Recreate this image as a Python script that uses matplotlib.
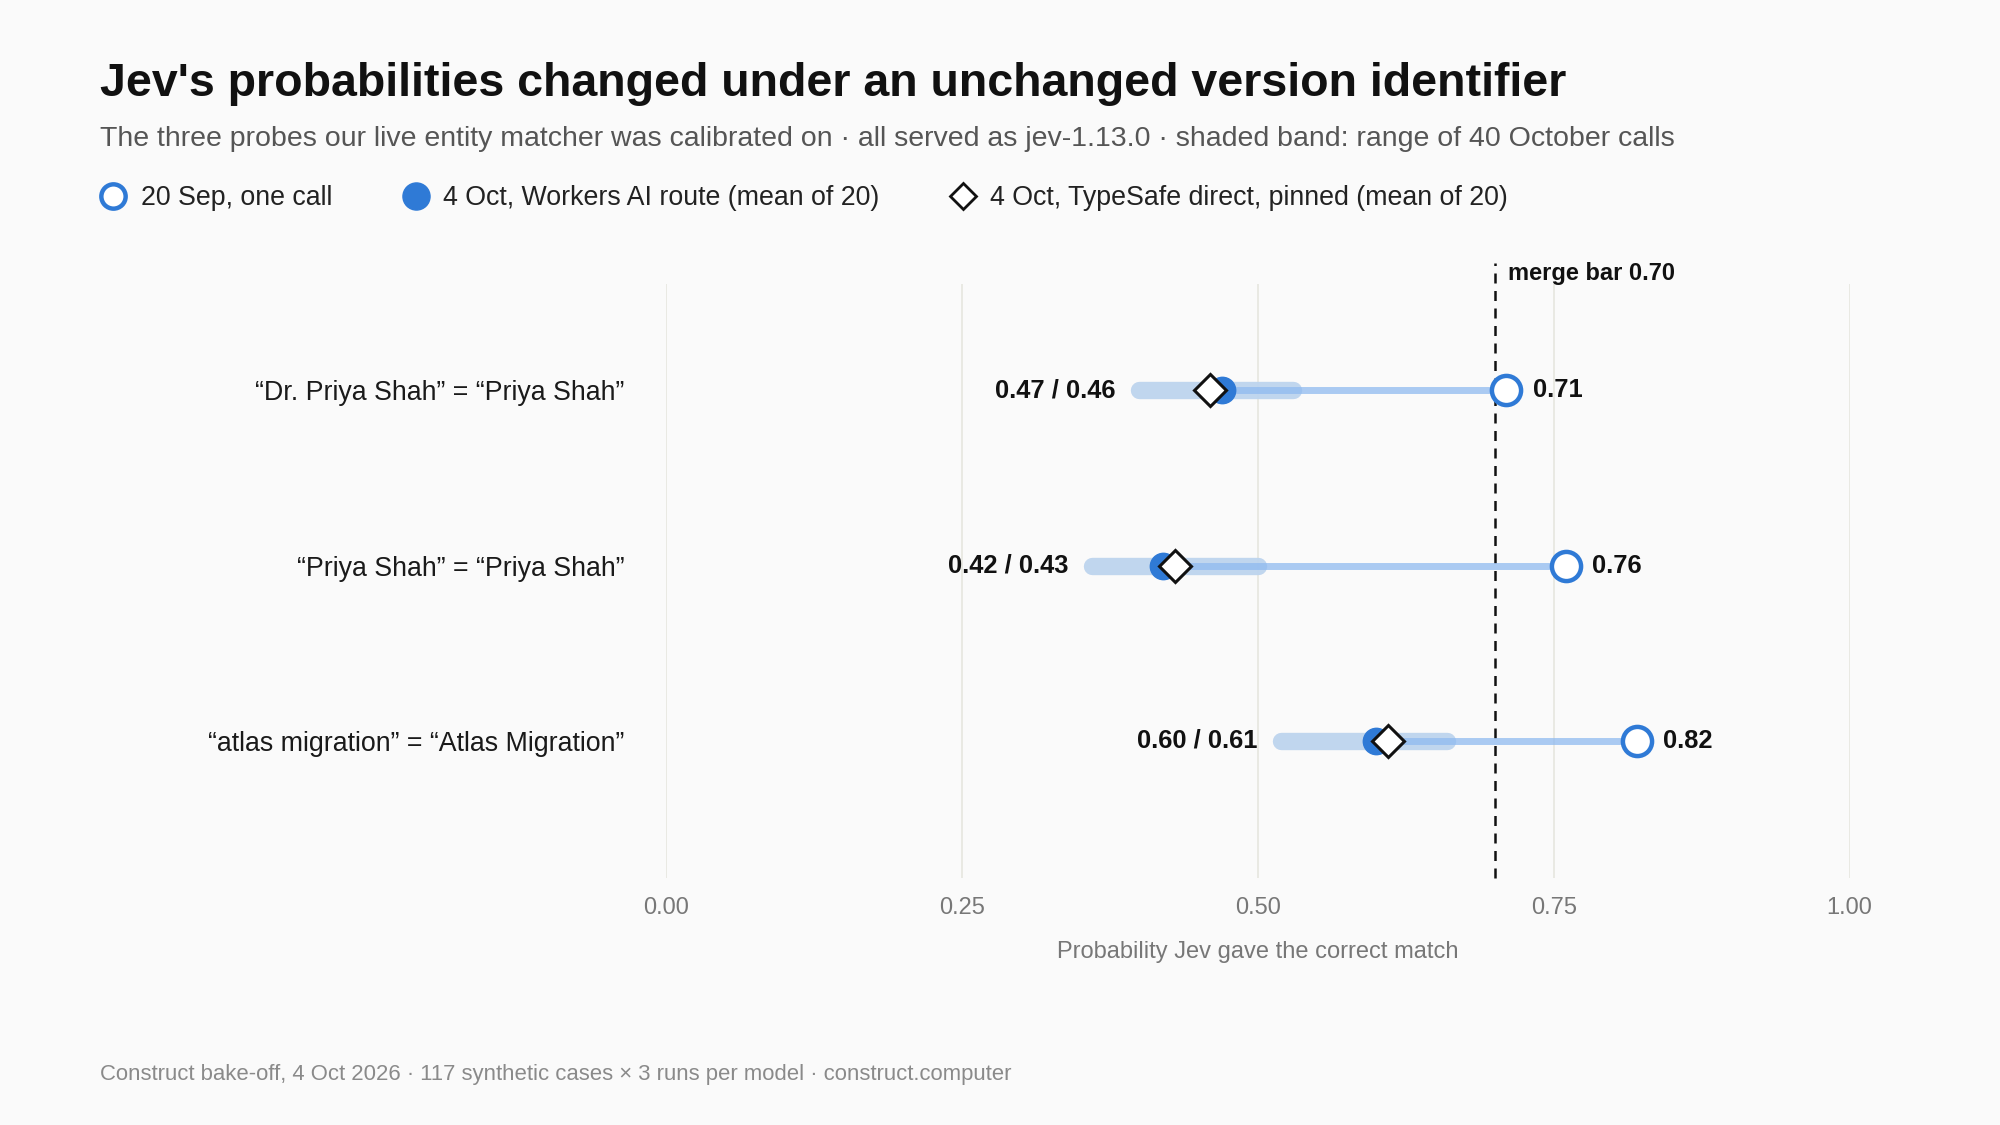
import matplotlib
matplotlib.use("Agg")
import matplotlib.pyplot as plt
from matplotlib.lines import Line2D

# --- Data ---
probes = ["\u201cDr. Priya Shah\u201d = \u201cPriya Shah\u201d",
          "\u201cPriya Shah\u201d = \u201cPriya Shah\u201d",
          "\u201catlas migration\u201d = \u201cAtlas Migration\u201d"]
sep_call = [0.71, 0.76, 0.82]          # 20 Sep, one call
oct_workers = [0.47, 0.42, 0.60]       # 4 Oct, Workers AI route (mean of 20)
oct_typesafe = [0.46, 0.43, 0.61]      # 4 Oct, TypeSafe direct, pinned (mean of 20)
band_lo = [0.40, 0.36, 0.52]           # range of 40 October calls
band_hi = [0.53, 0.50, 0.66]
merge_bar = 0.70
xticks = [0.0, 0.25, 0.5, 0.75, 1.0]

# --- Style ---
plt.rcParams['font.family'] = ['Liberation Sans', 'DejaVu Sans']
BG = "#fafafa"
BLUE = "#2f7ad6"
BAND = "#bdd4ee"
LINK = "#8fbaf0"
GRID = "#e6e6df"

fig = plt.figure(figsize=(20, 11.25), dpi=100, facecolor=BG)
ax = fig.add_axes([0.333, 0.22, 0.5918, 0.528])
ax.set_facecolor(BG)

ypos = list(range(len(probes)))

for i, y in enumerate(ypos):
    # shaded band of October calls
    ax.plot([band_lo[i], band_hi[i]], [y, y], color=BAND, lw=12.5,
            solid_capstyle="round", alpha=0.95, zorder=2)
    # link from October mean to September value
    ax.plot([oct_workers[i], sep_call[i]], [y, y], color=LINK, lw=5,
            alpha=0.75, solid_capstyle="butt", zorder=3)

ax.plot(oct_workers, ypos, "o", ms=19, color=BLUE, mec=BLUE, zorder=4, clip_on=False)
ax.plot(oct_typesafe, ypos, "D", ms=16, mfc="white", mec="#111111", mew=2.2,
        zorder=5, clip_on=False)
ax.plot(sep_call, ypos, "o", ms=21, mfc="white", mec=BLUE, mew=3.2, zorder=6,
        clip_on=False)

for i, y in enumerate(ypos):
    ax.annotate(f"{oct_workers[i]:.2f} / {oct_typesafe[i]:.2f}", (band_lo[i], y),
                xytext=(-17, 0), textcoords="offset points", ha="right", va="center",
                fontsize=18.4, fontweight="bold", color="#111111")
    ax.annotate(f"{sep_call[i]:.2f}", (sep_call[i], y), xytext=(19, 0),
                textcoords="offset points", ha="left", va="center",
                fontsize=18.4, fontweight="bold", color="#111111")

# merge bar
ax.axvline(merge_bar, ymin=0, ymax=1.035, color="#111111", lw=1.8,
           ls=(0, (4, 3)), clip_on=False, zorder=1)
ax.annotate(f"merge bar {merge_bar:.2f}", (merge_bar, 1.0), xycoords=("data", "axes fraction"),
            xytext=(10, 7.5), textcoords="offset points", ha="left", va="center",
            fontsize=17, fontweight="bold", color="#111111")

ax.set_xlim(0, 1)
ax.set_ylim(2.78, -0.61)
ax.set_xticks(xticks)
ax.set_xticklabels([f"{t:.2f}" for t in xticks])
ax.set_yticks(ypos)
ax.set_yticklabels(probes)
ax.grid(axis="x", color=GRID, lw=1.2, zorder=0)
ax.grid(axis="y", visible=False)
for s in ax.spines.values():
    s.set_visible(False)
ax.tick_params(axis="x", length=0, pad=14, labelsize=17, labelcolor="#777777")
ax.tick_params(axis="y", length=0, pad=30, labelsize=19.3, labelcolor="#1a1a1a")
ax.set_xlabel("Probability Jev gave the correct match", fontsize=17,
              color="#777777", labelpad=16)

# titles
fig.text(0.0498, 0.9147, "Jev's probabilities changed under an unchanged version identifier",
         fontsize=33.5, fontweight="bold", color="#111111", ha="left", va="baseline")
fig.text(0.0498, 0.870,
         "The three probes our live entity matcher was calibrated on \u00b7 all served as jev-1.13.0 "
         "\u00b7 shaded band: range of 40 October calls",
         fontsize=20.5, color="#555555", ha="left", va="baseline")

# legend
handles = [
    Line2D([], [], ls="none", marker="o", ms=17.5, mfc="white", mec=BLUE, mew=3.2),
    Line2D([], [], ls="none", marker="o", ms=19.5, color=BLUE),
    Line2D([], [], ls="none", marker="D", ms=13.5, mfc="white", mec="#111111", mew=2),
]
labels = ["20 Sep, one call", "4 Oct, Workers AI route (mean of 20)",
          "4 Oct, TypeSafe direct, pinned (mean of 20)"]
leg = fig.legend(handles, labels, loc="center left", bbox_to_anchor=(0.0499, 0.824),
                 ncol=3, frameon=False, fontsize=19.3, handlelength=1.0,
                 handletextpad=0.52, columnspacing=2.62, borderaxespad=0, borderpad=0)
for t in leg.get_texts():
    t.set_color("#222222")

fig.text(0.0498, 0.0453,
         "Construct bake-off, 4 Oct 2026 \u00b7 117 synthetic cases \u00d7 3 runs per model \u00b7 construct.computer",
         fontsize=15.9, color="#8a8a8a", ha="left", va="center")

fig.savefig("out.png", dpi=100, facecolor=BG)
